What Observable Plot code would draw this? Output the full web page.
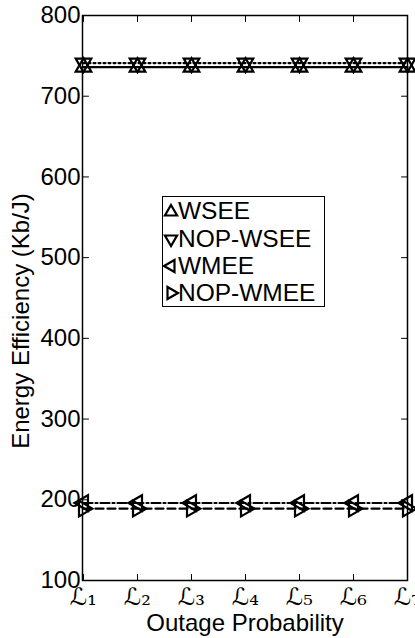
<!DOCTYPE html>
<html><head><meta charset="utf-8">
<script src="https://cdn.jsdelivr.net/npm/d3@7"></script>
<script src="https://cdn.jsdelivr.net/npm/@observablehq/plot@0.6"></script>
<style>
html,body{margin:0;padding:0;background:#fff;}
#wrap{position:relative;width:415px;height:638px;overflow:hidden;font-family:"Liberation Sans",Arial,sans-serif;}
#legend{position:absolute;left:162px;top:196px;width:163px;height:111px;border:1px solid #000;background:#fff;padding-top:1px;box-sizing:border-box;}
.row{display:flex;align-items:center;height:27.2px;font-size:24.5px;line-height:1;color:#000;}
.row svg{width:14px;height:16px;margin-left:1px;overflow:visible;flex:none;}
</style></head><body><div id="wrap"></div>
<script>
// ---- data ----
const categories = ["L1","L2","L3","L4","L5","L6","L7"];
const tickLabels = ["ℒ₁","ℒ₂","ℒ₃","ℒ₄","ℒ₅","ℒ₆","ℒ₇"];
const seriesNames = ["WSEE","NOP-WSEE","WMEE","NOP-WMEE"];
const wsee    = [736,736,736,736,736,736,736];
const nopWsee = [741,741,741,741,741,741,741];
const wmee    = [196,196,196,196,196,196,196];
const nopWmee = [189,189,189,189,189,189,189];
const yTicks  = [100,200,300,400,500,600,700,800];
const xLabel = "Outage Probability";
const yLabel = "Energy Efficiency (Kb/J)";

// ---- styles ----
function triangle(angle){
  return { draw(ctx, size){
    const r = Math.sqrt(size/Math.PI);
    for (let k=0;k<3;k++){
      const a = angle + k*2*Math.PI/3;
      const px = r*Math.cos(a), py = r*Math.sin(a);
      if (k) ctx.lineTo(px,py); else ctx.moveTo(px,py);
    }
    ctx.closePath();
  }};
}
const styles = {
  "WSEE":     {dash: null,        symbol: triangle(-Math.PI/2)},
  "NOP-WSEE": {dash: "2,3",       symbol: triangle(Math.PI/2)},
  "WMEE":     {dash: "9,3,2,3",   symbol: triangle(Math.PI)},
  "NOP-WMEE": {dash: "8,4",       symbol: triangle(0)}
};
const valuesBySeries = {"WSEE": wsee, "NOP-WSEE": nopWsee, "WMEE": wmee, "NOP-WMEE": nopWmee};
const table = seriesNames.map(name => ({name, rows: categories.map((c,i)=>({x:c, y:valuesBySeries[name][i]}))}));

const tickShape = { draw(ctx, l){ ctx.moveTo(0,0); ctx.lineTo(0,-l); } };
const tickLen = 6;

const marks = [];
for (const s of table){
  const st = styles[s.name];
  marks.push(Plot.line(s.rows, {x:"x", y:"y", stroke:"black", strokeWidth:2.2, strokeDasharray: st.dash}));
}
for (const s of table){
  const st = styles[s.name];
  marks.push(Plot.dot(s.rows, {x:"x", y:"y", symbol: st.symbol, r: 9, stroke:"black", strokeWidth:2.2, fill:"none"}));
}

const chart = Plot.plot({
  width: 415, height: 638,
  marginLeft: 82, marginRight: 8, marginTop: 15, marginBottom: 58,
  style: {background:"white", color:"black", fontFamily:"'Liberation Sans', Arial, sans-serif", overflow:"visible"},
  x: {type:"point", domain: categories, padding: 0, axis: null},
  y: {domain:[100,800], axis: null},
  marks: [
    Plot.frame({stroke:"black", strokeWidth:1.5}),
    Plot.axisY({ticks: yTicks, tickSize: 0, tickPadding: 2, fontSize: 24, label: null}),
    Plot.axisX({tickSize: 0, tickPadding: 7, fontSize: 24, fontFamily: "'DejaVu Serif', 'DejaVu Sans', serif", label: null,
      tickFormat: d => tickLabels[categories.indexOf(d)]}),
    Plot.vector(yTicks, {y: d=>d, frameAnchor:"left", length: tickLen, rotate: 90, anchor:"start", shape: tickShape, stroke:"black", strokeWidth:1}),
    Plot.vector(yTicks, {y: d=>d, frameAnchor:"right", length: tickLen, rotate: -90, anchor:"start", shape: tickShape, stroke:"black", strokeWidth:1}),
    Plot.vector(categories, {x: d=>d, frameAnchor:"bottom", length: tickLen, rotate: 0, anchor:"start", shape: tickShape, stroke:"black", strokeWidth:1}),
    Plot.vector(categories, {x: d=>d, frameAnchor:"top", length: tickLen, rotate: 180, anchor:"start", shape: tickShape, stroke:"black", strokeWidth:1}),
    ...marks,
    Plot.text([yLabel], {text: d=>d, frameAnchor:"left", textAnchor:"middle", lineAnchor:"middle", rotate:-90, dx:-61, dy:23, fontSize:24, fill:"black"}),
    Plot.text([xLabel], {text: d=>d, frameAnchor:"bottom", textAnchor:"middle", lineAnchor:"middle", dy:43, fontSize:24, fill:"black"})
  ]
});
const wrap = document.getElementById("wrap");
wrap.append(chart);

// ---- legend ----
const legend = document.createElement("div");
legend.id = "legend";
for (const name of seriesNames){
  const row = document.createElement("div");
  row.className = "row";
  const p = d3.path();
  styles[name].symbol.draw(p, Math.PI*49);
  row.innerHTML = `<svg viewBox="-7 -8 14 16"><path d="${p.toString()}" fill="none" stroke="black" stroke-width="2.2"/></svg><span>${name}</span>`;
  legend.append(row);
}
wrap.append(legend);
</script></body></html>
